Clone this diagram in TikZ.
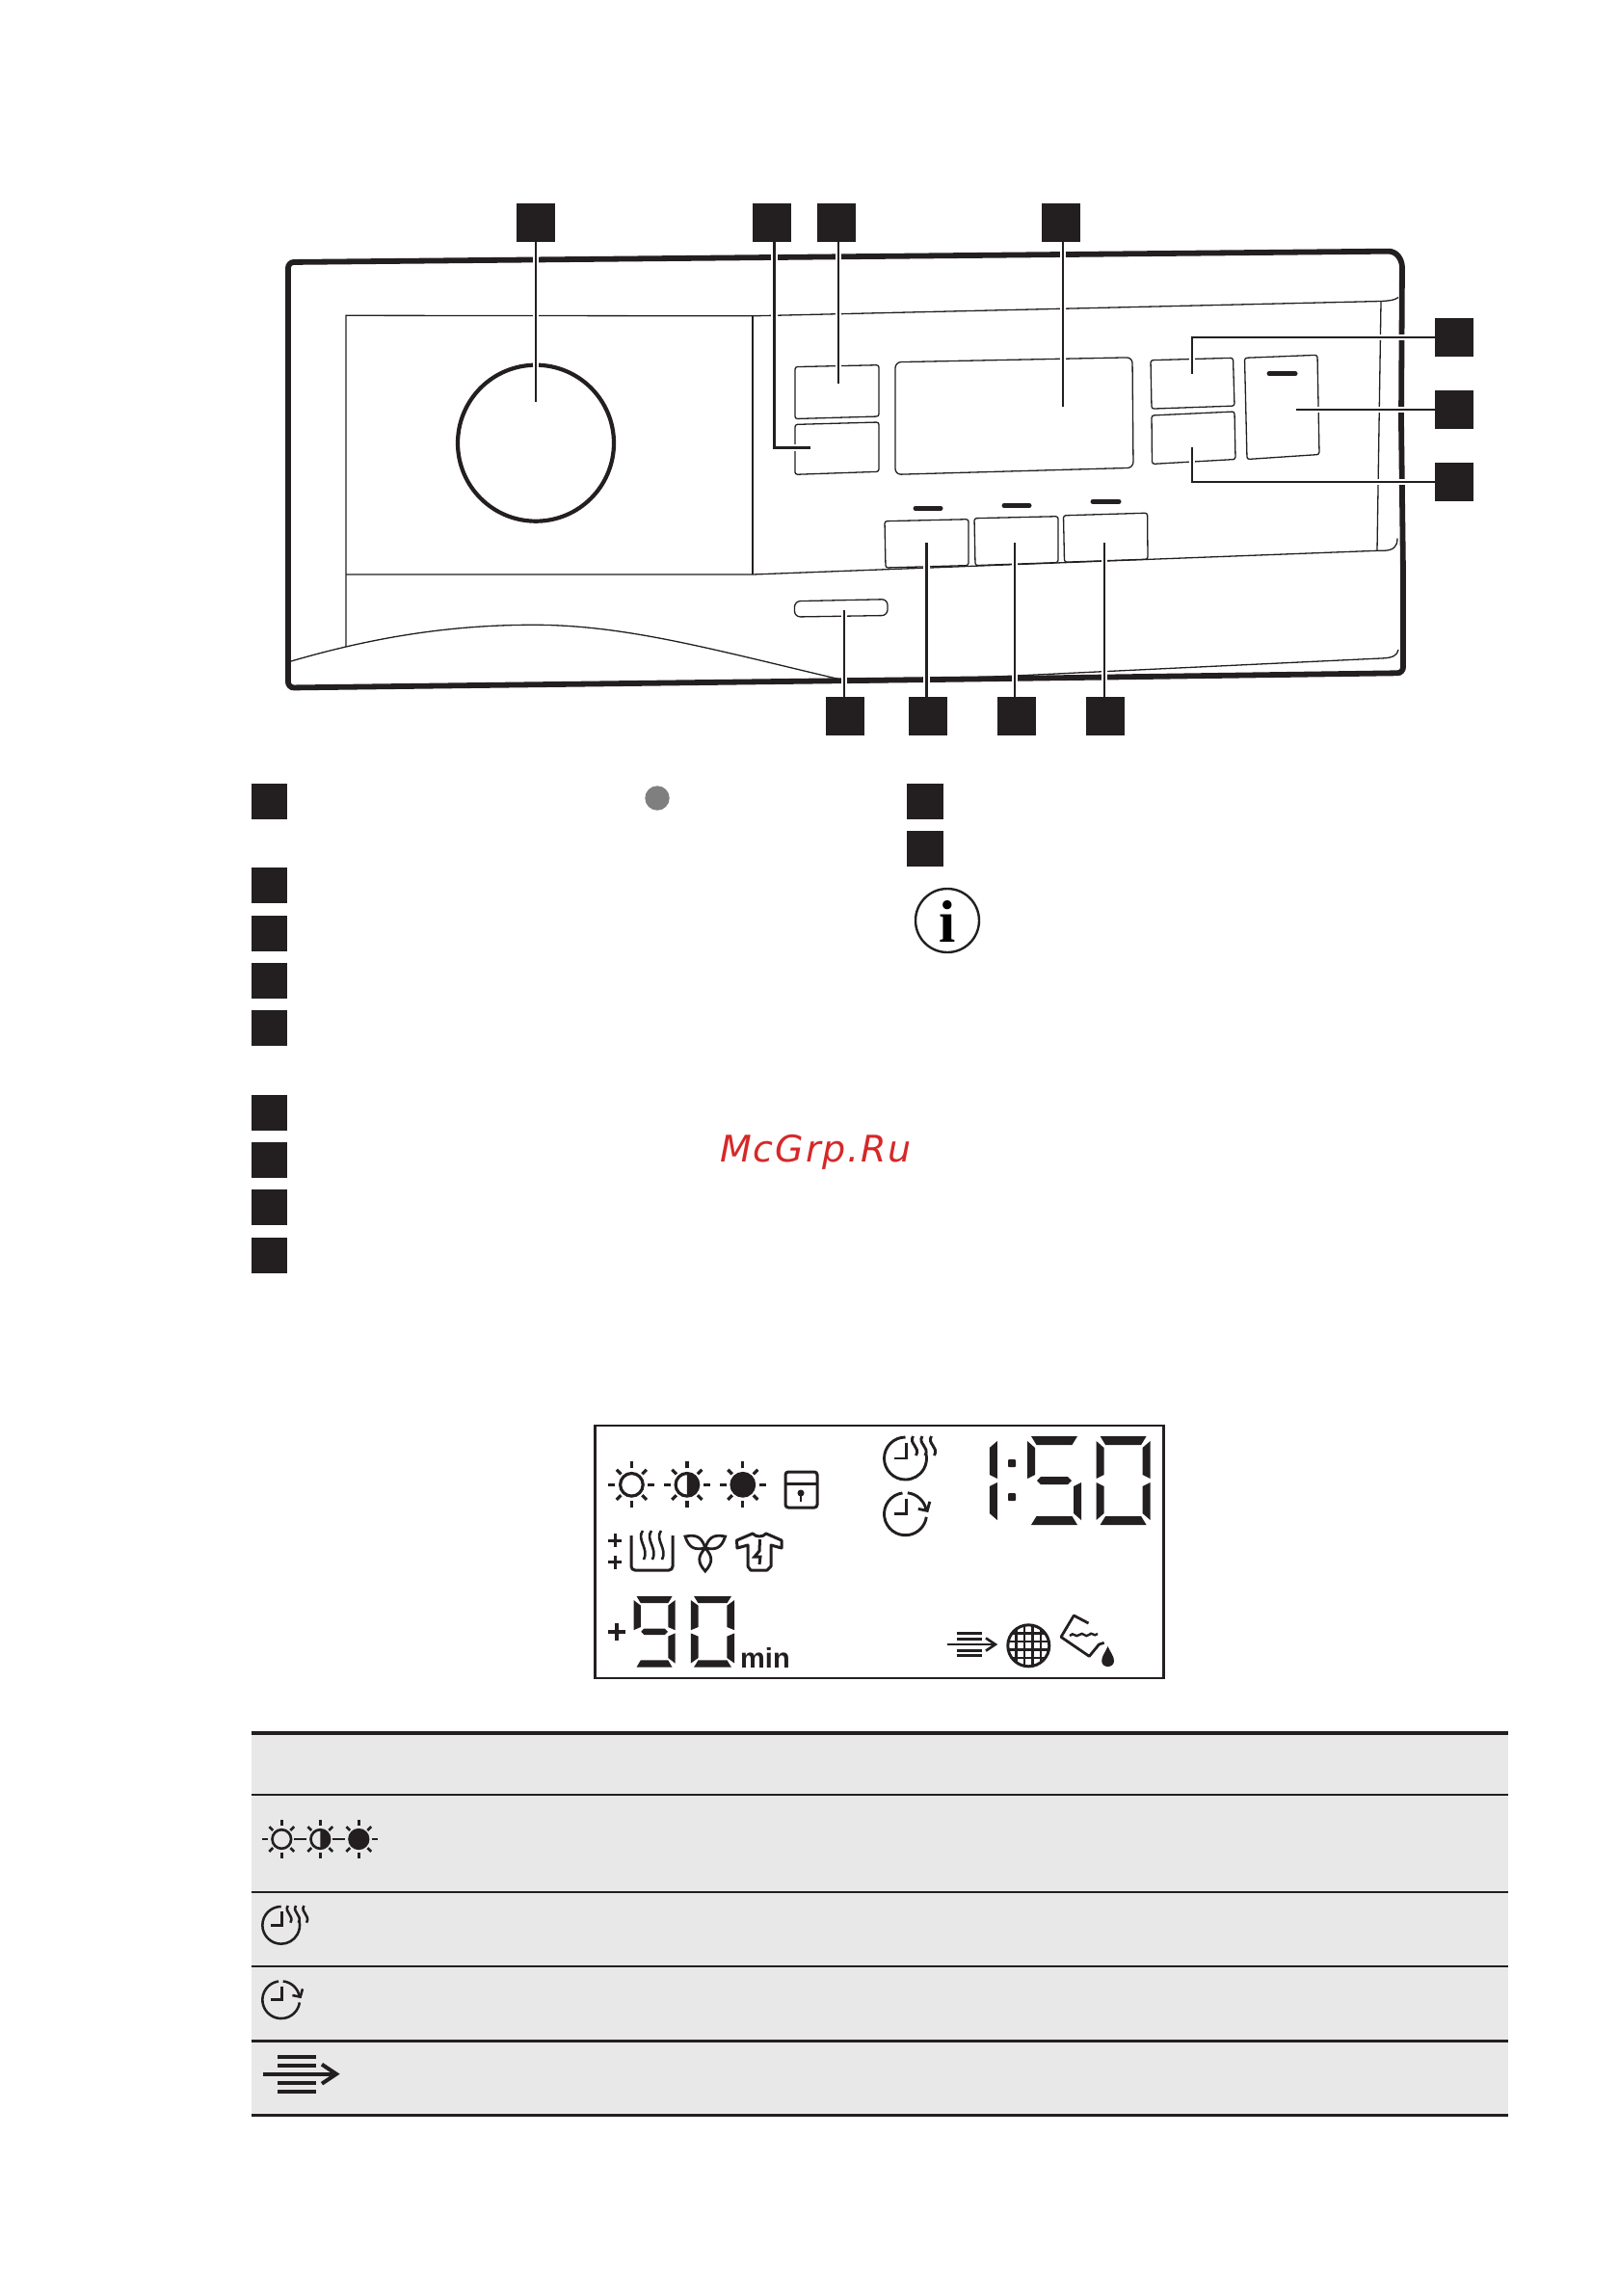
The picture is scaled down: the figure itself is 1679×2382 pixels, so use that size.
\documentclass[tikz,border=0pt]{standalone}
\usepackage{fontspec}
\newfontfamily\markfont[LetterSpace=5]{DejaVu Sans}
\newfontfamily\lcdfont{Liberation Sans}
\newfontfamily\infofont{Liberation Serif}
\definecolor{inkdark}{HTML}{231F20}
\definecolor{rowgrey}{HTML}{E8E8E8}
\definecolor{markred}{HTML}{D62828}
\definecolor{dotgrey}{HTML}{7F7F7F}
\newcommand{\st}{8}
\tikzset{
    keysq/.style={fill=inkdark, inner sep=0pt, minimum width=40pt, minimum height=40pt},
    listsq/.style={fill=inkdark, inner sep=0pt, minimum width=37.5pt, minimum height=37pt},
    thinline/.style={draw=inkdark, line width=1.3pt},
    btnline/.style={thinline, rounded corners=2.5pt},
    leader/.style={draw=inkdark, line width=2.5pt, line join=miter,
        preaction={draw=white, line width=6.5pt}},
    ledbar/.style={draw=inkdark, line width=5pt, line cap=round},
    pics/segA/.style={code={\fill[inkdark] (4,0) -- (52,0) -- (46.5,9) -- (9.5,9) -- cycle;}},
    pics/segB/.style={code={\fill[inkdark] (0,5) -- (\st,12) -- (\st,40) -- (0,44) -- cycle;}},
    pics/segC/.style={code={\fill[inkdark] (56,5) -- (56-\st,12) -- (56-\st,40) -- (56,44) -- cycle;}},
    pics/segD/.style={code={\fill[inkdark] (10,46) -- (14,42) -- (42,42) -- (46,46) -- (42,50) -- (14,50) -- cycle;}},
    pics/segE/.style={code={\fill[inkdark] (0,48) -- (\st,52) -- (\st,80) -- (0,87) -- cycle;}},
    pics/segF/.style={code={\fill[inkdark] (56,48) -- (56-\st,52) -- (56-\st,80) -- (56,87) -- cycle;}},
    pics/segG/.style={code={\fill[inkdark] (9.5,83) -- (46.5,83) -- (52,92) -- (4,92) -- cycle;}},
}
% lcd digit: origin, scale keys, segments
\newcommand{\lcddigit}[3]{
    \begin{scope}[shift={#1},#2]
        \foreach \s in {#3} { \pic[transform shape] {seg\s}; }
    \end{scope}
}
% sun: centre, scale
\newcommand{\sunicon}[2]{
    \begin{scope}[shift={#1},scale=#2,draw=inkdark,fill=inkdark,line width=#2*3.2pt]
        \foreach \a in {0,90,180,270} { \draw (\a:17) -- (\a:24); }
        \foreach \a in {45,135,225,315} { \draw (\a:15.5) -- (\a:22); }
        \draw (0,0) circle (11.8);
    \end{scope}
}
% clock with steam: centre, scale
\newcommand{\clocksteam}[2]{
    \begin{scope}[shift={#1},scale=#2,draw=inkdark,line width=#2*2.9pt]
        \draw (0,-22) arc (-90:-372:22);
        \draw (1,-16) -- (1,0) -- (-12,0);
        \foreach \x in {9,18.5,28} { \draw (\x-1,-23) .. controls (\x-6,-15) and (\x+7,-12) .. (\x+2,-3); }
    \end{scope}
}
% clock with arrow: centre, scale
\newcommand{\clockturn}[2]{
    \begin{scope}[shift={#1},scale=#2,draw=inkdark,line width=#2*2.9pt]
        \draw (-98:22) arc (-98:-352:22);
        \draw (-84:22) arc (-84:-10:22);
        \draw (13.3,-5.3) -- (22.7,-3.4) -- (25.3,-12.9);
        \draw (1,-16) -- (1,0) -- (-12,0);
    \end{scope}
}
% bars and arrow: centre of the shaft, scale
\newcommand{\blowicon}[2]{
    \begin{scope}[shift={#1},scale=#2,draw=inkdark]
        \foreach \y in {-17.7,-8.4,9.3,18} { \draw[line width=#2*4.3pt] (-23,\y) -- (17,\y); }
        \draw[line width=#2*4pt] (-38,0) -- (38,0);
        \draw[line width=#2*4pt] (23,-10) -- (38,0) -- (23,10);
    \end{scope}
}
\begin{document}
\begin{tikzpicture}[x=1pt,y=-1pt]
    \useasboundingbox (0,0) rectangle (1679,2382);
    \fill[white] (0,0) rectangle (1679,2382);

    % panel outline
    \draw[inkdark, line width=5.8pt, rounded corners=6pt] (299,272) -- (1447,260.6) -- (1455,271)
        -- (1454,437) -- (1456,595) -- (1456,698.2) -- (1000,704.6) -- (299,713.5) -- cycle;
    \draw[thinline] (359,671) -- (359,327.3) -- (781,327.8) -- (1433,312.5)
        .. controls (1442,312) and (1447,311.5) .. (1451,308.5);
    \draw[thinline] (781,327.8) -- (781,596);
    \draw[thinline] (359,596) -- (781,596) -- (1429,571.3) -- (1436,571.3)
        .. controls (1446,570.8) and (1450,567.3) .. (1450,558.5);
    \draw[thinline] (1433,312.5) -- (1429,571.3);
    \draw[thinline] (302,686) .. controls (400,657.3) and (480,648.3) .. (554,648.3)
        .. controls (650,648.3) and (740,674) .. (875,705.6) .. controls (890,708) and (900,708) .. (915,707.6)
        -- (1435,682.9) .. controls (1445,682.4) and (1450,680) .. (1451,674);

    % knob
    \draw[inkdark, line width=4.2pt] (556,459.7) circle (81);

    % buttons and display
    \draw[btnline] (825,380.6) -- (912,378.7) -- (912,432) -- (825,434.5) -- cycle;
    \draw[btnline] (825,440.4) -- (912,438) -- (912,489.3) -- (825,492.3) -- cycle;
    \draw[thinline, rounded corners=6pt] (929,375.7) -- (1175,370.8) -- (1176,485.3) -- (929,492.3) -- cycle;
    \draw[btnline] (1194,373.7) -- (1279.5,371.3) -- (1281,421.1) -- (1195,424.1) -- cycle;
    \draw[btnline] (1195,431) -- (1281,427) -- (1282,476.5) -- (1195.5,481.4) -- cycle;
    \draw[btnline] (1291.5,371.3) -- (1367,368.3) -- (1369,471.5) -- (1294,476.5) -- cycle;
    \draw[btnline] (918,540.7) -- (1005,538.7) -- (1005,586.6) -- (919,589) -- cycle;
    \draw[btnline] (1011,537.7) -- (1098,535.7) -- (1098,583.6) -- (1012,586.6) -- cycle;
    \draw[btnline] (1103.5,534.8) -- (1190.6,532.2) -- (1191,580.2) -- (1104.5,583.2) -- cycle;
    \draw[thinline, rounded corners=6pt] (824.5,623.7) -- (921,621.7) -- (921,638.5) -- (824.5,640) -- cycle;

    % leds
    \foreach \xa/\xb/\y in {1317/1344/387.6, 950/976/527.4, 1042/1068/524.5, 1134/1161/520.4} {
        \draw[ledbar] (\xa,\y) -- (\xb,\y);
    }

    % key squares round the panel
    \foreach \n/\x/\y in {a/556/231, b/801/231, c/868/231, d/1101/231,
                          e/1509/350, f/1509/425, g/1509/500,
                          h/877/743, i/963/743, j/1055/743, k/1147/743} {
        \node[keysq] (key\n) at (\x,\y) {};
    }
    \coordinate (enda) at (556,416.7);
    \coordinate (endb) at (841,464.6);
    \coordinate (cornb) at (803.5,464.6);
    \coordinate (endc) at (870,398.4);
    \coordinate (endd) at (1103,422.1);
    \coordinate (ende) at (1237,387.6);
    \coordinate (cornerlow) at (1237,500);
    \coordinate (endf) at (1345,425);
    \coordinate (endg) at (1237,463.6);
    \coordinate (endh) at (876,633);
    \coordinate (endi) at (961.5,563);
    \coordinate (endj) at (1053,563);
    \coordinate (endk) at (1146,563);

    \draw[leader] (keya.south) -- (enda);
    \draw[leader] (keyb.south -| cornb) -- (cornb) -- (endb);
    \draw[leader] (keyc.south -| endc) -- (endc);
    \draw[leader] (keyd.south -| endd) -- (endd);
    \draw[leader] (keye.west) -| (ende);
    \draw[leader] (keyf.west) -- (endf);
    \draw[leader] (keyg.west) -- (cornerlow) -- (endg);
    \draw[leader] (keyh.north -| endh) -- (endh);
    \draw[leader] (keyi.north -| endi) -- (endi);
    \draw[leader] (keyj.north -| endj) -- (endj);
    \draw[leader] (keyk.north -| endk) -- (endk);

    % list squares
    \foreach \n/\y in {a/831.5, b/918.5, c/968.5, d/1017.5, e/1066.5, f/1154.5, g/1203.5, h/1252.5, i/1302.5} {
        \node[listsq] (item\n) at (279.5,\y) {};
    }
    \foreach \n/\y in {a/831.5, b/880.5} {
        \node[listsq] (note\n) at (960,\y) {};
    }
    \fill[dotgrey] (682,828) circle (12.7);
    \draw[inkdark, line width=2.4pt] (983,955) circle (33);
    \node[inner sep=0pt, anchor=base] (infomark) at (983,977) {\infofont\bfseries\fontsize{62}{62}\selectfont i};
    \node[inner sep=0pt, anchor=base west, text=markred] (markname) at (747,1205)
        {\markfont\itshape\fontsize{38}{38}\selectfont McGrp.Ru};

    % lcd drawing
    \draw[inkdark, line width=2.5pt] (617.5,1479) rectangle (1207.5,1741);
    \sunicon{(655.4,1540.3)}{1}
    \sunicon{(712.9,1540.3)}{1}
    \fill[inkdark] (712.9,1528.5) arc (-90:90:11.8);
    \sunicon{(770.8,1540.3)}{1}
    \fill[inkdark] (770.8,1540.3) circle (11.8);
    % door lock
    \draw[inkdark, line width=3pt, rounded corners=3pt] (815,1527) rectangle (848,1564);
    \draw[inkdark, line width=3pt] (815,1539) -- (848,1539);
    \fill[inkdark] (831,1549) circle (3.5);
    \draw[inkdark, line width=2.6pt] (831,1549) -- (831,1558);
    % extras row
    \foreach \y in {1598,1620.7} {
        \draw[inkdark, line width=3pt] (631,\y) -- (645,\y) (638,\y-7) -- (638,\y+7);
    }
    \draw[inkdark, line width=3pt, rounded corners=4pt] (655,1593) -- (655,1629) -- (698,1629) -- (698,1593);
    \foreach \x in {667,676,686} {
        \draw[inkdark, line width=2.6pt] (\x,1588) .. controls (\x-7,1597) and (\x+7,1607) .. (\x+1,1618);
    }
    \begin{scope}[shift={(731.8,1606)},draw=inkdark,line width=2.8pt]
        \foreach \r in {180,60,-60} {
            \draw[rotate=\r] (0,0) .. controls (-7,-8) and (-9,-14) .. (0,-24) .. controls (9,-14) and (7,-8) .. (0,0);
        }
    \end{scope}
    \draw[inkdark, line width=3pt, line join=round] (781,1591) .. controls (785,1595) and (791,1595) .. (795,1591)
        -- (811,1598) -- (811,1606) -- (800,1603) -- (800,1625) -- (796,1629) -- (779,1629) -- (776,1625)
        -- (776,1603) -- (765,1606) -- (764.5,1598) -- cycle;
    \draw[inkdark, line width=3pt] (788.5,1597) -- (788,1609) -- (783,1615) -- (789,1615) -- (788,1623);
    % clocks, waves
    \clocksteam{(939.5,1513)}{1}
    \clockturn{(939.5,1570.7)}{1}
    % long digits
    \lcddigit{(978.8,1490)}{}{C,F}
    \fill[inkdark, rounded corners=1pt] (1046,1514) rectangle (1054,1522) (1046,1549) rectangle (1054,1557);
    \lcddigit{(1066,1490)}{}{A,B,D,F,G}
    \lcddigit{(1137.6,1490)}{}{A,B,C,E,F,G}
    % extra time
    \draw[inkdark, line width=4pt] (631,1692.7) -- (649,1692.7) (640,1684) -- (640,1701.5);
    \renewcommand{\st}{9.5}
    \lcddigit{(657.5,1656)}{xscale=.77,yscale=.8}{A,B,C,D,F,G}
    \lcddigit{(716.8,1656)}{xscale=.81,yscale=.8}{A,B,C,E,F,G}
    \node[inner sep=0pt, anchor=base west, text=inkdark] (minlabel) at (768,1730)
        {\lcdfont\bfseries\fontsize{29}{29}\selectfont min};
    % bottom icons
    \blowicon{(1007.8,1706)}{.66}
    \begin{scope}[shift={(1067.3,1707.3)}]
        \clip (0,0) circle (22);
        \foreach \d in {-12.75,-4.25,4.25,12.75} {
            \draw[inkdark, line width=2.4pt] (\d,-23) -- (\d,23) (-23,\d) -- (23,\d);
        }
    \end{scope}
    \draw[inkdark, line width=3pt] (1067.3,1707.3) circle (21.5);
    \draw[inkdark, line width=2.8pt, line join=round] (1129.5,1684) -- (1114.3,1676) -- (1101,1698.3) -- (1130.3,1718.3)
        -- (1140.4,1706) -- (1145.6,1704.3);
    \draw[inkdark, line width=2.4pt] (1110,1697) .. controls (1114,1692) and (1116,1700) .. (1120,1696)
        .. controls (1124,1692) and (1126,1700) .. (1130,1696) .. controls (1133,1692) and (1135,1699) .. (1139,1695);
    \fill[inkdark] (1149.6,1708) .. controls (1147,1714) and (1143.2,1718) .. (1143.2,1723)
        .. controls (1143.2,1731) and (1156,1731) .. (1156,1723) .. controls (1156,1718) and (1152,1714) .. (1149.6,1708);

    % table
    \fill[rowgrey] (260.7,1796) rectangle (1565,2195);
    \foreach \y/\w in {1798/4.3, 1861.7/2, 1963/2, 2039.7/2, 2117.3/3, 2194.3/3} {
        \draw[inkdark, line width=\w pt] (260.7,\y) -- (1565,\y);
    }
    \sunicon{(292.3,1908)}{.83}
    \sunicon{(332.3,1908)}{.83}
    \fill[inkdark] (332.3,1898.2) arc (-90:90:9.8);
    \sunicon{(372.3,1908)}{.83}
    \fill[inkdark] (372.3,1908) circle (9.8);
    \draw[inkdark, line width=2.4pt] (305,1908) -- (318,1908) (345,1908) -- (358,1908);
    \clocksteam{(291.7,1997.3)}{.88}
    \clockturn{(291.7,2074.7)}{.88}
    \blowicon{(311,2151.7)}{1}
\end{tikzpicture}
\end{document}
